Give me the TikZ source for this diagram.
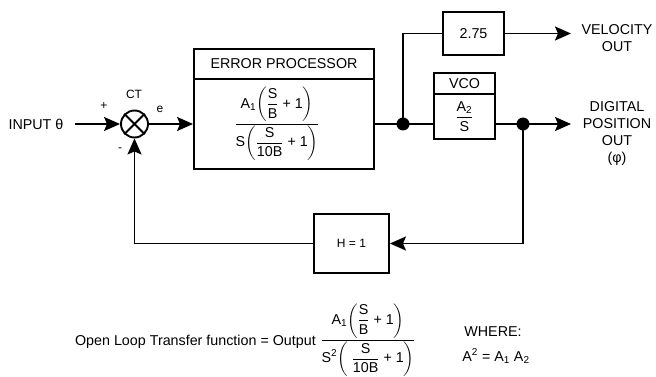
\documentclass[tikz,border=0pt]{standalone}
\usepackage{amsmath}
\usepackage{fontspec}
\setmainfont{Liberation Sans}
\usetikzlibrary{arrows.meta,calc}
\newcommand{\tx}[1]{\text{#1}}
\begin{document}
\begin{tikzpicture}[x=1pt,y=-1pt, font=\fontsize{14.3}{17}\selectfont,
 box/.style={draw, line width=1.9pt, inner sep=0pt, align=center},
 wire/.style={line width=1.9pt},
 arr/.style={wire, -{Stealth[length=16pt,width=14pt,inset=3pt]}},
 dot/.style={circle, fill, inner sep=0pt, minimum size=13pt},
 lbl/.style={inner sep=0pt, align=center},
 small/.style={font=\fontsize{12}{14}\selectfont}]
\useasboundingbox (0,0) rectangle (656,377);
% input and summing junction
\node[lbl] (in) at (36,124) {INPUT θ};
\coordinate (ins) at (75,124);
\node[draw, circle, line width=1.9pt, minimum size=27pt, inner sep=0pt] (sum) at (134.5,124) {};
\draw[wire] (sum.north east) -- (sum.south west) (sum.north west) -- (sum.south east);
\node[lbl, small] (ct) at (134,94) {CT};
\node[lbl, small] (plus) at (104,106) {+};
\node[lbl, small] (ee) at (160,109) {e};
\node[lbl, small] (minus) at (120,150) {-};
% error processor
\node[box, minimum width=180pt, minimum height=30pt] (ept) at (284,64) {ERROR PROCESSOR};
\node[box, minimum width=180pt, minimum height=90pt] (epb) at (284,124) {};
\node[lbl] (epf) at (277,124) {$\dfrac{\tx{A}_{\tx{1}}\!\left(\dfrac{\tx{S}}{\tx{B}}\ \tx{+ 1}\right)}{\tx{S}\!\left(\dfrac{\tx{S}}{\tx{10B}}\ \tx{+ 1}\right)}$};
% velocity branch
\node[box, minimum width=61pt, minimum height=43pt] (k) at (473.5,33.5) {2.75};
\coordinate (vend) at (571,33.5);
\node[lbl] (vel) at (617,38.5) {VELOCITY\\OUT};
% VCO
\node[box, minimum width=61pt, minimum height=21pt] (vcot) at (464.5,83.5) {VCO};
\node[box, minimum width=61pt, minimum height=45pt] (vcob) at (464.5,116.5) {$\dfrac{\tx{A}_{\tx{2}}}{\tx{S}}$};
\coordinate (pend) at (571,124);
\node[lbl] (pos) at (617,133) {DIGITAL\\POSITION\\OUT\\(φ)};
% junctions
\node[dot] (j1) at (403,124) {};
\node[dot] (j2) at (523,124) {};
% feedback
\node[box, minimum width=75pt, minimum height=59pt, small] (h) at (351.5,243.5) {H = 1};
% connectors
\draw[arr] (ins) -- (sum.west);
\draw[arr] (sum.east) -- (epb.west);
\draw[wire] (epb.east) -- (j1.center);
\draw[wire] (j1.center) |- (k.west);
\draw[arr] (k.east) -- (vend);
\draw[wire] (j1.center) -- (j1.center -| vcob.west);
\draw[wire] (j1.center -| vcob.east) -- (j2.center);
\draw[arr] (j2.center) -- (pend);
\draw[arr] (j2.center) |- (h.east);
\draw[arr] (h.west) -| (sum.south);
% bottom text
\node[lbl, anchor=east] (olt) at (316,342) {Open Loop Transfer function = Output};
\node[lbl] (olf) at (368,340) {$\dfrac{\tx{A}_{\tx{1}}\!\left(\dfrac{\tx{S}}{\tx{B}}\ \tx{+ 1}\right)}{\tx{S}^{\tx{2}}\!\left(\ \dfrac{\tx{S}}{\tx{10B}}\ \tx{+ 1}\right)}$};
\node[lbl] (wh) at (493,332) {WHERE:};
\node[lbl] (aeq) at (496,356) {$\tx{A}^{\tx{2}}\mathrel{\tx{=}}\tx{A}_{\tx{1}}\ \tx{A}_{\tx{2}}$};
\end{tikzpicture}
\end{document}
